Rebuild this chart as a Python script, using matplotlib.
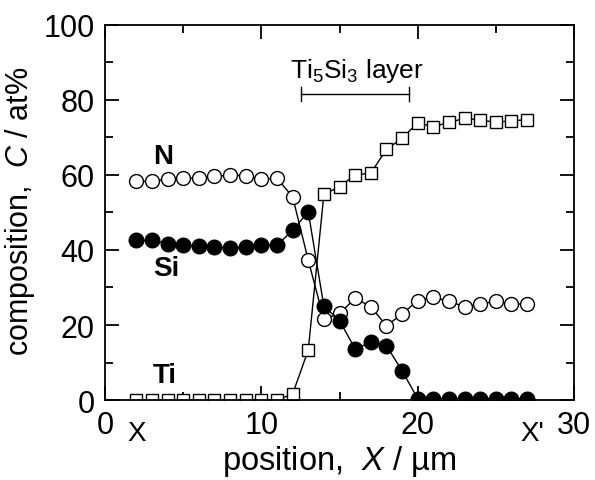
import numpy as np
import matplotlib
matplotlib.use("Agg")
import matplotlib.pyplot as plt

plt.rcParams['font.family'] = ['Liberation Sans', 'DejaVu Sans']
plt.rcParams['mathtext.fontset'] = 'custom'
plt.rcParams['mathtext.rm'] = 'Liberation Sans'
plt.rcParams['mathtext.it'] = 'Liberation Sans:italic'

# Data
position = np.arange(2, 28)
ti = [0, 0, 0, 0, 0, 0, 0, 0, 0, 0,
      1.6, 13.3, 54.8, 56.9, 60.0, 60.5, 66.8, 69.8, 73.9, 72.9,
      74.0, 75.1, 74.7, 74.0, 74.5, 74.7]
si = [42.6, 42.6, 41.7, 41.2, 41.0, 40.7, 40.5, 40.7, 41.3, 41.3,
      45.2, 50.2, 25.0, 21.2, 13.6, 15.4, 14.5, 7.8, 0.4, 0.4,
      0.4, 0.4, 0.4, 0.4, 0.4, 0.4]
n = [58.3, 58.3, 58.9, 59.2, 59.1, 59.6, 60.0, 59.8, 58.9, 59.1,
     54.2, 37.3, 21.5, 23.1, 27.1, 24.9, 19.8, 22.9, 26.5, 27.4,
     26.3, 24.9, 25.6, 26.3, 25.6, 25.6]

layer_start, layer_end = 12.55, 19.45

fig = plt.figure(figsize=(5.95, 4.81), dpi=100)
ax = fig.add_axes([0.1765, 0.1663, 0.7882, 0.7797])

line_kw = dict(color='black', lw=1.0, mec='black', mew=1.0)
ax.plot(position, n, marker='o', ms=10, mfc='white', **line_kw)
ax.plot(position, si, marker='o', ms=10.5, mfc='black', **line_kw)
ax.plot(position, ti, marker='s', ms=9, mfc='white', **line_kw)

ax.set_xlim(0, 30)
ax.set_ylim(0, 100)
ax.set_xticks([0, 10, 20, 30])
ax.set_xticks([5, 15, 25], minor=True)
ax.set_yticks(np.arange(0, 101, 20))
ax.set_yticks(np.arange(10, 100, 20), minor=True)
ax.tick_params(which='both', direction='in', top=True, right=True,
               labelsize=22, width=1.3, pad=7.5)
ax.tick_params(which='major', length=10)
ax.tick_params(which='minor', length=5.5)
for sp in ax.spines.values():
    sp.set_linewidth(1.3)

ax.set_xlabel('position,  $\\mathit{X}$ / µm', fontsize=23.5)
ax.set_ylabel('composition,  $\\mathit{C}$ / at%', fontsize=22)
ax.xaxis.set_label_coords(0.5, -0.115)
ax.yaxis.set_label_coords(-0.145, 0.505)

# element labels
ax.text(3.07, 65, 'N', fontsize=20, fontweight='bold', va='center', ha='left')
ax.text(3.07, 35.2, 'Si', fontsize=20, fontweight='bold', va='center', ha='left')
ax.text(3.07, 6.7, 'Ti', fontsize=20, fontweight='bold', va='center', ha='left')

# layer bracket
ax.plot([layer_start, layer_end], [81.6, 81.6], color='black', lw=1.0)
ax.plot([layer_start, layer_start], [79.7, 83.5], color='black', lw=1.0)
ax.plot([layer_end, layer_end], [79.7, 83.5], color='black', lw=1.0)
ax.text((layer_start + layer_end) / 2 + 0.1, 86.1, 'Ti$_5$Si$_3$ layer',
        fontsize=19, ha='center', va='baseline')

# line-scan endpoints
ax.text(2.0, -5.2, 'X', fontsize=20, ha='center', va='top', clip_on=False)
ax.text(27.3, -5.2, "X'", fontsize=20, ha='center', va='top', clip_on=False)

fig.savefig('out.png', dpi=100)
plt.close(fig)
